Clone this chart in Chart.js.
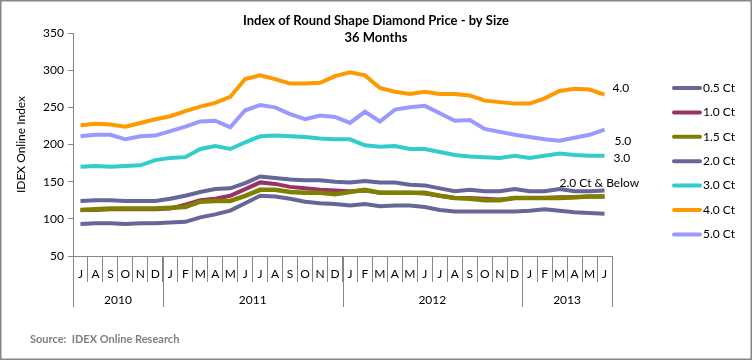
<!DOCTYPE html>
<html>
<head>
<meta charset="utf-8">
<script src="https://cdn.jsdelivr.net/npm/chart.js@4.4.1/dist/chart.umd.min.js"></script>
<style>
  html, body { margin: 0; padding: 0; background: #fff; }
  #wrap { width: 752px; height: 360px; }
</style>
</head>
<body>
<div id="wrap"><canvas id="diamondIndex" width="752" height="360"></canvas></div>
<script>
// Jul 2010 .. Jun 2013
var months = ['J','A','S','O','N','D',
  'J','F','M','A','M','J','J','A','S','O','N','D',
  'J','F','M','A','M','J','J','A','S','O','N','D',
  'J','F','M','A','M','J'];
var years = ['2010', '2011', '2012', '2013'];
var yearMonths = [6, 12, 12, 6];

var seriesNames = ['0.5 Ct', '1.0 Ct', '1.5 Ct', '2.0 Ct', '3.0 Ct', '4.0 Ct', '5.0 Ct'];
var seriesColors = ['#666699', '#993366', '#808000', '#666699', '#33cccc', '#ff9900', '#9999ff'];

var ct05 = [93,94,94,93,94,94,95,96,102,106,111,121,131,130,127,123,121,120,
            118,120,117,118,118,116,112,110,110,110,110,110,111,113,111,109,108,107];
var ct10 = [112,112,113,113,113,113,114,119,125,127,131,140,149,147,143,141,139,138,
            137,138,135,135,135,134,131,128,128,127,126,128,128,128,129,129,130,130];
var ct15 = [112,113,114,114,114,114,115,116,123,124,124,131,139,139,136,135,135,133,
            136,139,135,135,135,135,131,128,127,125,125,128,128,128,128,129,130,130];
var ct20 = [124,125,125,124,124,124,127,131,136,140,141,148,157,155,153,152,152,150,
            149,151,149,149,146,145,141,137,139,137,137,140,137,137,140,137,137,138];
var ct30 = [170,171,170,171,172,179,182,183,194,198,194,203,211,212,211,210,208,207,
            207,199,197,198,194,194,190,186,184,183,182,185,182,185,188,186,185,185];
var ct40 = [226,228,227,224,229,234,238,245,251,256,264,288,293,288,282,282,283,292,
            297,293,276,271,268,271,268,268,266,259,257,255,255,262,272,275,274,267];
var ct50 = [211,213,213,207,211,212,218,224,231,232,223,246,253,250,241,234,239,237,
            229,244,231,247,250,252,242,232,233,221,217,213,210,207,205,209,213,220];

var seriesValues = [ct05, ct10, ct15, ct20, ct30, ct40, ct50];

var axisGray = '#868686';
var fontFamily = 'Lato, "Open Sans", sans-serif';

var datasets = seriesValues.map(function(vals, i) {
  return {
    label: seriesNames[i],
    data: vals,
    borderColor: seriesColors[i],
    backgroundColor: seriesColors[i],
    borderWidth: i == 2 ? 4.5 : 4,
    pointRadius: 0,
    tension: 0,
    fill: false,
    order: seriesValues.length - i   // later series on top, like Excel
  };
});

// titles, year row, end labels, legend, source and frame
var decorPlugin = {
  id: 'decor',
  afterDraw: function(chart) {
    var ctx = chart.ctx;
    var x = chart.scales.x, y = chart.scales.y;
    var bottom = chart.chartArea.bottom;
    ctx.save();

    // title
    ctx.fillStyle = '#000';
    ctx.textAlign = 'center';
    ctx.textBaseline = 'middle';
    ctx.font = 'bold 13px ' + fontFamily;
    ctx.fillText('Index of Round Shape Diamond Price - by Size', 376, 21);
    ctx.fillText('36 Months', 376, 38);

    // year separators and labels
    ctx.strokeStyle = axisGray;
    ctx.lineWidth = 1;
    ctx.font = '12px ' + fontFamily;
    var k = 0;
    for (var j = 0; j <= years.length; j++) {
      var px = Math.round(x.getPixelForValue(k - 0.5)) + 0.5;
      ctx.beginPath();
      ctx.moveTo(px, bottom);
      ctx.lineTo(px, bottom + 51);
      ctx.stroke();
      if (j < years.length) {
        var mid = x.getPixelForValue(k - 0.5 + yearMonths[j] / 2);
        ctx.fillText(years[j], mid, bottom + 44);
        k += yearMonths[j];
      }
    }

    // labels at the line ends
    var lastX = x.getPixelForValue(months.length - 1);
    var endLabels = [
      { text: '4.0', dx: 8, value: 276 },
      { text: '5.0', dx: 10, value: 204 },
      { text: '3.0', dx: 9, value: 182 },
      { text: '2.0 Ct & Below', dx: -45, value: 148 }
    ];
    ctx.textAlign = 'left';
    endLabels.forEach(function(l) {
      ctx.fillText(l.text, lastX + l.dx, y.getPixelForValue(l.value));
    });

    // legend
    ctx.font = '12px ' + fontFamily;
    chart.data.datasets.forEach(function(ds, i) {
      var ly = 88 + i * 24.4;
      ctx.strokeStyle = ds.borderColor;
      ctx.lineWidth = 4;
      ctx.lineCap = 'round';
      ctx.beginPath();
      ctx.moveTo(674, ly);
      ctx.lineTo(700, ly);
      ctx.stroke();
      ctx.fillStyle = '#000';
      ctx.fillText(ds.label, 703, ly);
    });

    // source
    ctx.fillStyle = '#7f7f7f';
    ctx.font = 'bold 11px ' + fontFamily;
    ctx.fillText('Source:  IDEX Online Research', 30, 339);

    // frame
    ctx.strokeStyle = axisGray;
    ctx.lineWidth = 1.5;
    ctx.strokeRect(0.75, 0.75, chart.width - 1.5, chart.height - 1.5);
    ctx.restore();
  }
};

const diamondChart = new Chart(document.getElementById('diamondIndex').getContext('2d'), {
  type: 'line',
  data: {
    labels: months,
    datasets: datasets
  },
  options: {
    responsive: false,
    animation: false,
    layout: {
      padding: { top: 33, right: 140, bottom: 0, left: 0 }
    },
    plugins: {
      legend: { display: false },
      title: { display: false },
      tooltip: { enabled: false }
    },
    scales: {
      x: {
        type: 'category',
        offset: true,
        grid: {
          offset: true,
          drawOnChartArea: false,
          drawTicks: true,
          tickLength: 26,
          color: axisGray,
          tickColor: axisGray
        },
        border: { color: axisGray, width: 1 },
        ticks: {
          autoSkip: false,
          maxRotation: 0,
          padding: -15,
          color: '#000',
          font: { family: fontFamily, size: 12 }
        },
        afterFit: function(scale) { scale.height = 104; }
      },
      y: {
        min: 50,
        max: 350,
        ticks: {
          stepSize: 50,
          padding: 4,
          color: '#000',
          font: { family: fontFamily, size: 12 }
        },
        grid: {
          drawOnChartArea: false,
          tickLength: 5,
          color: axisGray,
          tickColor: axisGray
        },
        border: { color: axisGray, width: 1 },
        title: {
          display: true,
          text: 'IDEX Online Index',
          color: '#000',
          font: { family: fontFamily, size: 12 },
          padding: { top: 14, bottom: 0 }
        },
        afterFit: function(scale) { scale.width = 73; }
      }
    }
  },
  plugins: [decorPlugin]
});
</script>
</body>
</html>
